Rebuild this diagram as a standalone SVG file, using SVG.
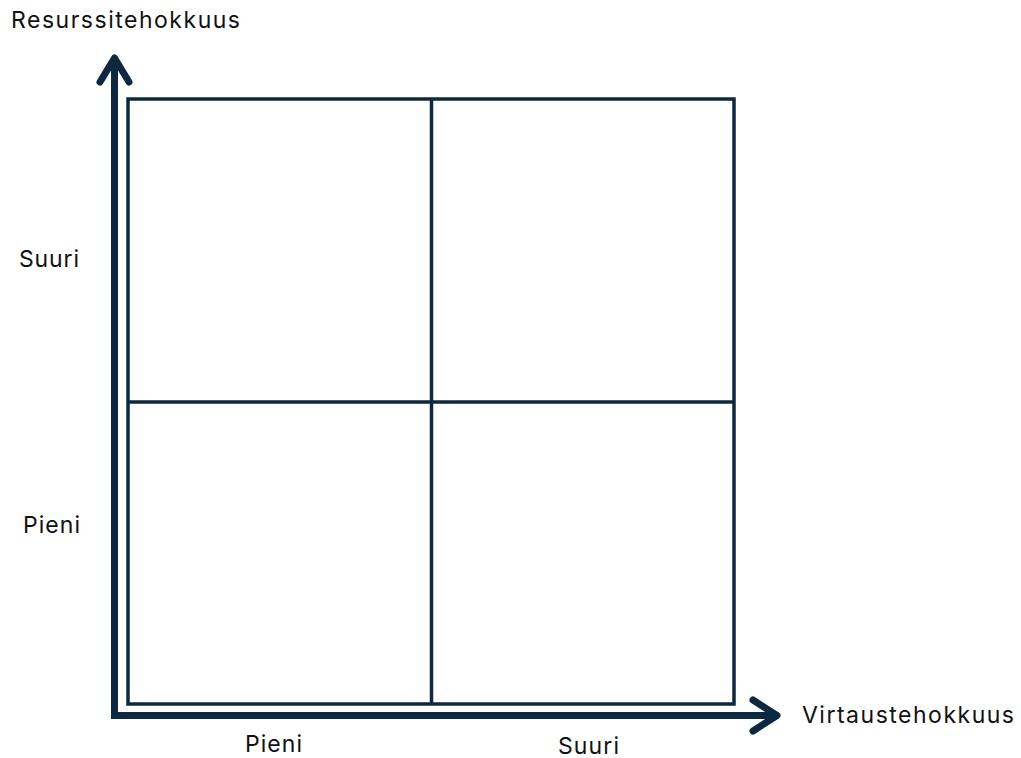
<svg xmlns="http://www.w3.org/2000/svg" width="1021" height="758" viewBox="0 0 1021 758">
  <style>
    .axis { fill: none; stroke: #0e2841; stroke-width: 7; stroke-linecap: round; stroke-linejoin: round; }
    .grid { fill: none; stroke: #0e2841; stroke-width: 3.5; }
    .lbl { font-family: Inter, "Liberation Sans", sans-serif; font-size: 23px; fill: #111111; }
  </style>
  <rect width="1021" height="758" fill="#ffffff"/>

  <!-- quadrant matrix -->
  <g id="matrix">
    <rect class="grid" x="128" y="99" width="606" height="605"/>
    <line class="grid" x1="431.5" y1="99" x2="431.5" y2="704"/>
    <line class="grid" x1="128" y1="402" x2="734" y2="402"/>
  </g>

  <!-- axes with open arrowheads -->
  <g id="axes">
    <path class="axis" d="M114.5 715.5 V58" style="stroke-linecap: butt"/>
    <path class="axis" d="M111 715.5 H776" style="stroke-linecap: butt"/>
    <polyline class="axis" points="100,82 114.5,58 129,82"/>
    <polyline class="axis" points="753,700 777,715.5 753,731"/>
  </g>

  <!-- axis titles and scale labels -->
  <g id="labels">
    <text class="lbl" x="11" y="28" textLength="229" lengthAdjust="spacing">Resurssitehokkuus</text>
    <text class="lbl" x="802" y="723" textLength="212" lengthAdjust="spacing">Virtaustehokkuus</text>
    <text class="lbl" x="19" y="267" textLength="60" lengthAdjust="spacing">Suuri</text>
    <text class="lbl" x="23" y="533" textLength="57" lengthAdjust="spacing">Pieni</text>
    <text class="lbl" x="245" y="752" textLength="57" lengthAdjust="spacing">Pieni</text>
    <text class="lbl" x="558" y="753.5" textLength="61" lengthAdjust="spacing">Suuri</text>
  </g>
</svg>
